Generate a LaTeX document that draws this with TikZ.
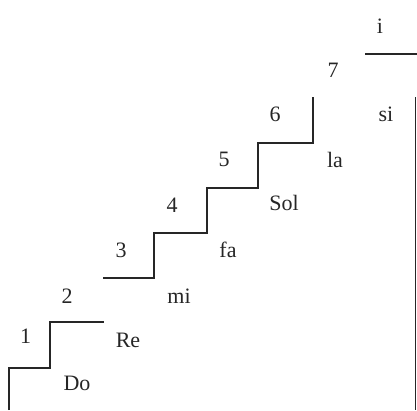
\documentclass[tikz,border=0pt]{standalone}
\usepackage{fontspec}
\setmainfont{Liberation Serif}
\begin{document}
\begin{tikzpicture}[x=1pt,y=-1pt,
  stair/.style={line width=1.3pt,black!85},
  lbl/.style={font=\fontsize{22}{24}\selectfont,inner sep=0pt,anchor=base,text=black!85}]
\useasboundingbox (0,0) rectangle (417,410);
\draw[stair] (9,410) -- (9,368) -- (50,368) -- (50,322) -- (104,322);
\draw[stair] (103,278) -- (154,278) -- (154,233) -- (207,233) -- (207,188) -- (258,188) -- (258,143) -- (313,143) -- (313,97);
\draw[stair] (365,54) -- (417,54);
\draw[stair] (415.5,97) -- (415.5,410);
\node[lbl] (n1) at (25.5,343) {1};
\node[lbl] (n2) at (67,303) {2};
\node[lbl] (n3) at (121,257) {3};
\node[lbl] (n4) at (172,212) {4};
\node[lbl] (n5) at (224,166) {5};
\node[lbl] (n6) at (275,121) {6};
\node[lbl] (n7) at (333,77) {7};
\node[lbl] (ni) at (380,33) {i};
\node[lbl] (do) at (77,390) {Do};
\node[lbl] (re) at (128,347) {Re};
\node[lbl] (mi) at (179,303) {mi};
\node[lbl] (fa) at (228,257) {fa};
\node[lbl] (sol) at (284,210) {Sol};
\node[lbl] (la) at (335,167) {la};
\node[lbl] (si) at (386,121) {si};
\end{tikzpicture}
\end{document}
